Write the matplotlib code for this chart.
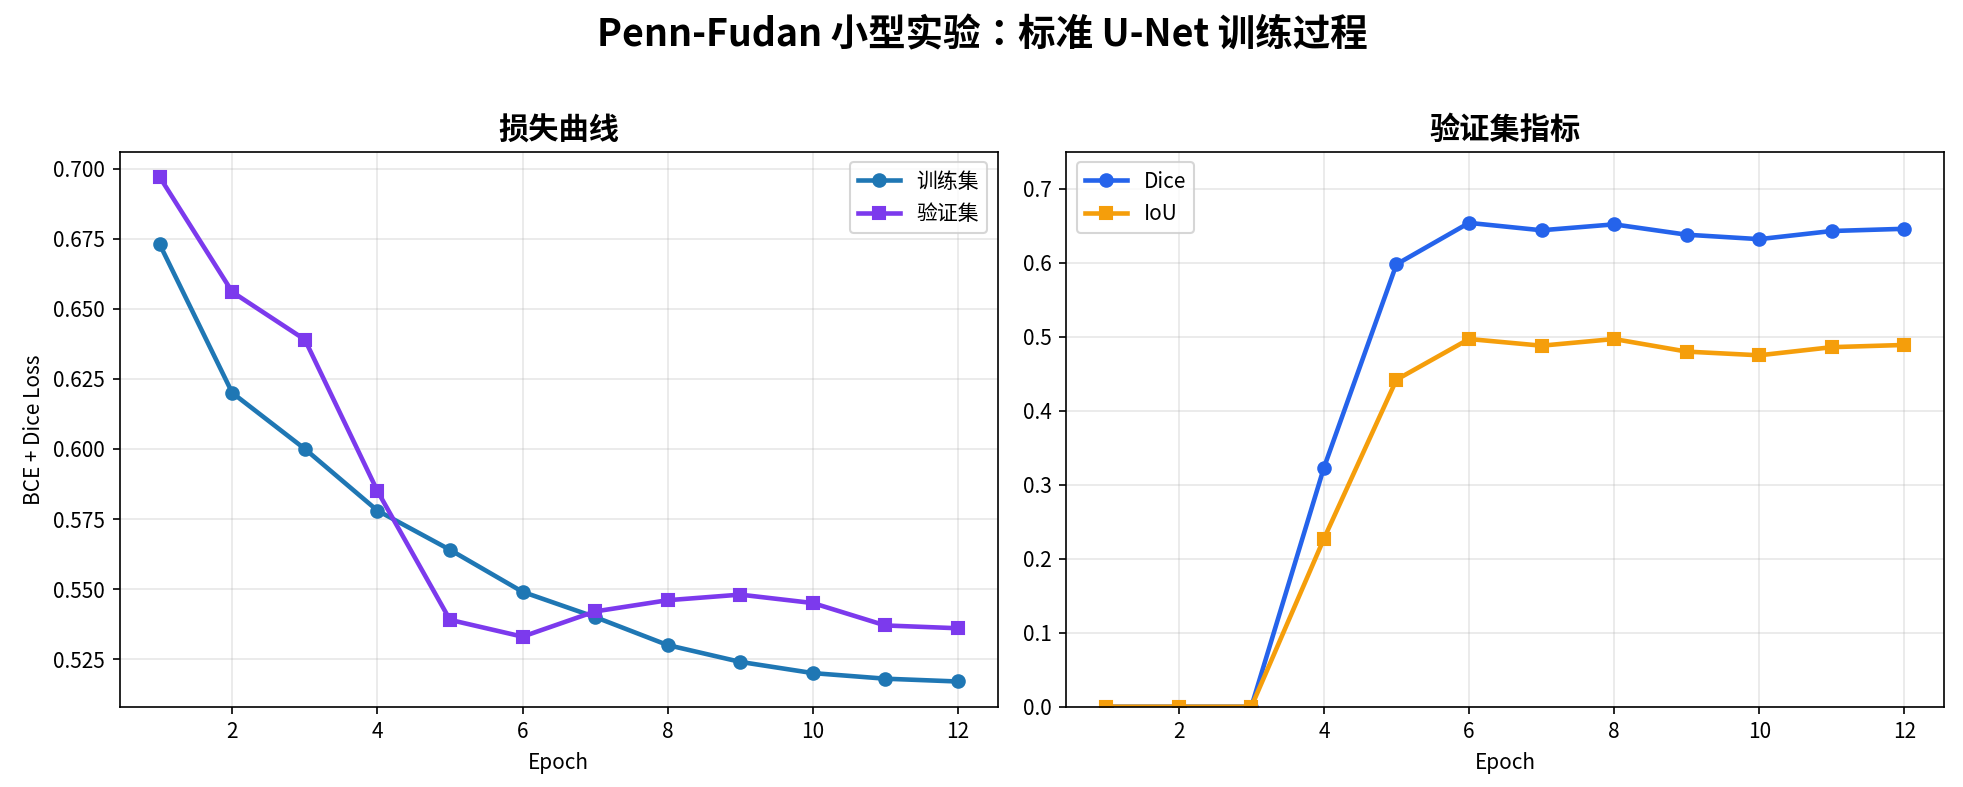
import numpy as np
import matplotlib
matplotlib.use("Agg")
import matplotlib.pyplot as plt

plt.rcParams['font.family'] = ['Noto Sans CJK JP', 'DejaVu Sans']
plt.rcParams['axes.unicode_minus'] = False

# 数据
epochs = list(range(1, 13))
train_loss = [0.673, 0.620, 0.600, 0.578, 0.564, 0.549, 0.540, 0.530, 0.524, 0.520, 0.518, 0.517]
val_loss = [0.697, 0.656, 0.639, 0.585, 0.539, 0.533, 0.542, 0.546, 0.548, 0.545, 0.537, 0.536]
val_dice = [0.0, 0.0, 0.0, 0.323, 0.598, 0.654, 0.644, 0.652, 0.638, 0.632, 0.643, 0.646]
val_iou = [0.0, 0.0, 0.0, 0.227, 0.442, 0.497, 0.488, 0.497, 0.480, 0.475, 0.486, 0.489]

fig, (ax1, ax2) = plt.subplots(1, 2, figsize=(13.093, 5.247), dpi=150)
fig.subplots_adjust(left=0.061, right=0.990, bottom=0.102, top=0.807, wspace=0.078)

# 损失曲线
ax1.plot(epochs, train_loss, marker='o', color='#1f77b4', lw=2.2, ms=6, label='训练集')
ax1.plot(epochs, val_loss, marker='s', color='#7c3aed', lw=2.2, ms=6, label='验证集')
ax1.set_title('损失曲线', fontsize=14.5, fontweight='bold')
ax1.set_xlabel('Epoch')
ax1.set_ylabel('BCE + Dice Loss')
ax1.grid(True, alpha=0.3)
ax1.legend(loc='upper right')

# 验证集指标
ax2.plot(epochs, val_dice, marker='o', color='#2563eb', lw=2.2, ms=6, label='Dice')
ax2.plot(epochs, val_iou, marker='s', color='#f59e0b', lw=2.2, ms=6, label='IoU')
ax2.set_title('验证集指标', fontsize=14.5, fontweight='bold')
ax2.set_xlabel('Epoch')
ax2.set_ylim(0, 0.75)
ax2.grid(True, alpha=0.3)
ax2.legend(loc='upper left')

fig.suptitle('Penn-Fudan 小型实验：标准 U-Net 训练过程', fontsize=18, fontweight='bold', y=0.98)

fig.savefig('out.png', dpi=150)
